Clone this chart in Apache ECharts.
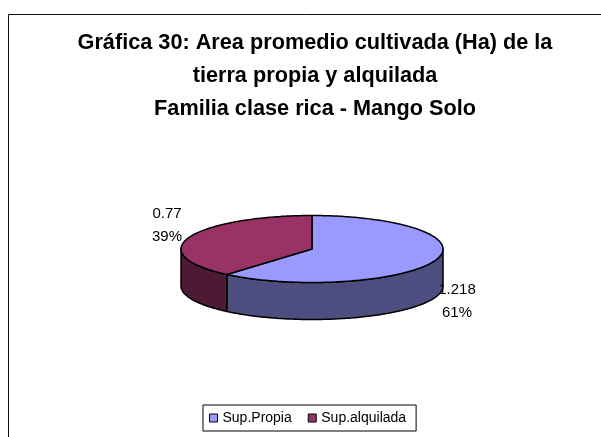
<!DOCTYPE html>
<html>
<head>
<meta charset="utf-8">
<script src="https://cdn.jsdelivr.net/npm/echarts@6/dist/echarts.min.js"></script>
<style>
  html, body { margin: 0; padding: 0; background: #fff; }
  #chart { width: 601px; height: 437px; }
</style>
</head>
<body>
<div id="chart"></div>
<script>
// Slices of the pie
const categories = ['Sup.Propia', 'Sup.alquilada'];
const values = [1.218, 0.77];
const topColors = ['#9999FF', '#993366'];
const sideColors = ['#4D4D80', '#4D1933'];

const titleLines = [
  'Gráfica 30: Area promedio cultivada (Ha) de la',
  'tierra propia y alquilada',
  'Familia clase rica - Mango Solo'
];

// Ellipse geometry of the tilted disc
const disc = { cx: 312, cy: 249, rx: 131, ry: 33.5, depth: 37 };
const FONT = '"Liberation Sans", Arial, sans-serif';

const total = values.reduce((a, b) => a + b, 0);

function pt(theta, dy) {
  return [disc.cx + disc.rx * Math.sin(theta), disc.cy - disc.ry * Math.cos(theta) + dy];
}
function arc(a, b, dy) {
  const pts = [];
  const n = Math.max(2, Math.ceil((b - a) / (Math.PI / 180)));
  for (let k = 0; k <= n; k++) pts.push(pt(a + (b - a) * k / n, dy));
  return pts;
}

function makeRender(idx) {
  return function (params, api) {
    const before = values.slice(0, idx).reduce((a, b) => a + b, 0);
    const v = api.value(0);
    const start = before / total * Math.PI * 2;
    const end = start + v / total * Math.PI * 2;
    const children = [];

    // front wall (visible lower half of the rim)
    const lo = Math.max(start, Math.PI / 2);
    const hi = Math.min(end, Math.PI * 1.5);
    if (lo < hi) {
      const pts = arc(lo, hi, 0).concat(arc(lo, hi, disc.depth).reverse());
      children.push({
        type: 'polygon', z2: 1,
        shape: { points: pts },
        style: { fill: sideColors[idx], stroke: '#000', lineWidth: 1.5, lineJoin: 'round' }
      });
    }

    // top face
    const top = [[disc.cx, disc.cy]].concat(arc(start, end, 0));
    children.push({
      type: 'polygon', z2: 2,
      shape: { points: top },
      style: { fill: topColors[idx], stroke: '#000', lineWidth: 1.5, lineJoin: 'round' }
    });

    // data label: value and share
    const mid = (start + end) / 2;
    const s = Math.sin(mid), c = Math.cos(mid);
    const lx = disc.cx + disc.rx * 1.18 * s;
    const ly = disc.cy - disc.ry * 2 * c + (c < 0 ? disc.depth * 0.8 : 0);
    children.push({
      type: 'text', z2: 3,
      x: lx, y: ly,
      style: {
        text: String(v) + '\n' + Math.round(v / total * 100) + '%',
        fill: '#000', font: '15px ' + FONT,
        align: 'center', verticalAlign: 'middle', lineHeight: 23
      }
    });

    return { type: 'group', children };
  };
}

const chart = echarts.init(document.getElementById('chart'), null, { renderer: 'canvas' });

chart.setOption({
  animation: false,
  backgroundColor: '#fff',
  color: topColors,
  title: {
    text: titleLines.join('\n'),
    left: 310,
    top: 22,
    textAlign: 'center',
    textStyle: {
      fontFamily: FONT, fontSize: 21.7, fontWeight: 'bold',
      color: '#000', lineHeight: 33
    }
  },
  legend: {
    data: categories,
    left: 203,
    top: 405,
    orient: 'horizontal',
    icon: 'rect',
    itemWidth: 8,
    itemHeight: 8,
    itemGap: 16,
    padding: [6, 10, 6, 6],
    borderColor: '#000',
    borderWidth: 1,
    backgroundColor: '#fff',
    itemStyle: { borderColor: '#000', borderWidth: 1 },
    textStyle: { fontFamily: FONT, fontSize: 14, color: '#000' }
  },
  graphic: [{
    type: 'rect',
    shape: { x: 8.5, y: 14.5, width: 700, height: 700 },
    style: { fill: null, stroke: '#111', lineWidth: 1 },
    silent: true
  }],
  series: categories.map((name, i) => ({
    type: 'custom',
    name: name,
    coordinateSystem: 'none',
    itemStyle: { color: topColors[i] },
    renderItem: makeRender(i),
    data: [[values[i]]]
  }))
});
</script>
</body>
</html>
